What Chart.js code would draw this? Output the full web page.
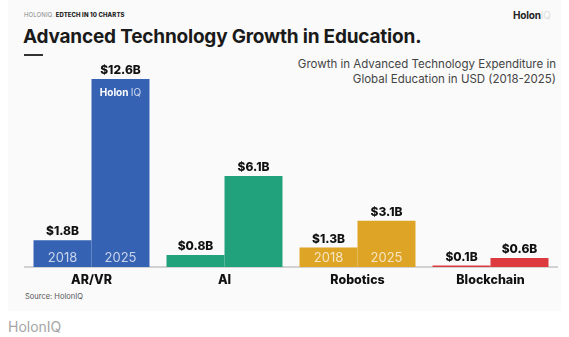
<!DOCTYPE html>
<html>
<head>
<meta charset="utf-8">
<script src="https://cdn.jsdelivr.net/npm/chart.js@4"></script>
<style>
  html, body { margin: 0; padding: 0; background: #fff; }
  body { width: 569px; height: 337px; position: relative; overflow: hidden; font-family: Inter, "Noto Sans", sans-serif; }
  .card { position: absolute; left: 8px; top: 0; width: 553px; height: 311px; background: #fafafa; }
  .kicker { position: absolute; left: 24px; top: 11px; font-size: 6px; letter-spacing: 0.1px; color: #888; }
  .kicker b { color: #222; font-weight: 800; }
  .brand { position: absolute; left: 513px; top: 9px; font-size: 10px; font-weight: 700; color: #222; letter-spacing: -0.2px; }
  .brand span { color: #ddd; font-weight: 400; }
  h1 { position: absolute; left: 23px; top: 25px; margin: 0; font-size: 19px; font-weight: 700; color: #1a1a1a; letter-spacing: -0.2px; }
  .rule { position: absolute; left: 24px; top: 54px; width: 19px; height: 2px; background: #333; }
  .sub { position: absolute; right: 13px; top: 57px; text-align: right; font-size: 11.5px; line-height: 15px; color: #444; }
  .source { position: absolute; left: 25px; top: 292px; font-size: 7.5px; color: #555; }
  .foot { position: absolute; left: 8px; top: 318px; font-size: 14px; color: #a5a5a5; }
  #wrap { position: absolute; left: 0; top: 0; width: 569px; height: 337px; }
</style>
</head>
<body>
<div class="card"></div>
<div class="kicker">HOLONIQ. <b>EDTECH IN 10 CHARTS</b></div>
<div class="brand">Holon<span>IQ</span></div>
<h1>Advanced Technology Growth in Education.</h1>
<div class="rule"></div>
<div class="sub">Growth in Advanced Technology Expenditure in<br>Global Education in USD (2018-2025)</div>
<div class="source">Source: HolonIQ</div>
<div class="foot">HolonIQ</div>
<div id="wrap"><canvas id="chart"></canvas></div>
<script>
// spend in USD billions
const categories = ['AR/VR', 'AI', 'Robotics', 'Blockchain'];
const years = ['2018', '2025'];
const spend2018 = [1.8, 0.8, 1.3, 0.1];
const spend2025 = [12.6, 6.1, 3.1, 0.6];
const barColors = ['#3662b4', '#22a27c', '#dea425', '#dc3a3e'];
// groups that carry the year tag inside their bars
const taggedGroups = ['AR/VR', 'Robotics'];

const valueLabels = {
  id: 'valueLabels',
  afterDatasetsDraw(chart) {
    const ctx = chart.ctx;
    ctx.save();
    ctx.textAlign = 'center';
    chart.data.datasets.forEach((ds, di) => {
      const meta = chart.getDatasetMeta(di);
      meta.data.forEach((bar, i) => {
        ctx.fillStyle = '#111';
        ctx.font = '800 12px Inter, sans-serif';
        ctx.textBaseline = 'alphabetic';
        ctx.fillText('$' + ds.data[i].toFixed(1) + 'B', bar.x, bar.y - 5);
        if (taggedGroups.includes(categories[i])) {
          ctx.fillStyle = 'rgba(255,255,255,0.72)';
          ctx.font = '400 13px Inter, sans-serif';
          ctx.textBaseline = 'middle';
          ctx.fillText(years[di], bar.x, bar.base - 9);
        }
      });
    });
    // logo on the tallest bar
    const top = chart.getDatasetMeta(1).data[0];
    ctx.textBaseline = 'middle';
    ctx.textAlign = 'left';
    ctx.font = '700 10px Inter, sans-serif';
    const w1 = ctx.measureText('Holon ').width;
    ctx.font = '400 10px Inter, sans-serif';
    const w2 = ctx.measureText('IQ').width;
    const x0 = top.x - (w1 + w2) / 2;
    ctx.fillStyle = '#fff';
    ctx.font = '700 10px Inter, sans-serif';
    ctx.fillText('Holon ', x0, top.y + 14);
    ctx.fillStyle = 'rgba(255,255,255,0.75)';
    ctx.font = '400 10px Inter, sans-serif';
    ctx.fillText('IQ', x0 + w1, top.y + 14);
    ctx.restore();
  }
};

new Chart(document.getElementById('chart'), {
  type: 'bar',
  data: {
    labels: categories,
    datasets: [
      { label: years[0], data: spend2018, backgroundColor: barColors },
      { label: years[1], data: spend2025, backgroundColor: barColors }
    ]
  },
  options: {
    responsive: true,
    maintainAspectRatio: false,
    animation: false,
    events: [],
    layout: { padding: { left: 25, right: 12, top: 58, bottom: 43 } },
    datasets: { bar: { categoryPercentage: 0.872, barPercentage: 1, borderWidth: 0 } },
    plugins: { legend: { display: false }, tooltip: { enabled: false } },
    scales: {
      x: {
        grid: { display: false, drawTicks: false },
        border: { display: true, color: '#d2d2d2', width: 2 },
        ticks: { color: '#111', padding: 6, font: { family: 'Inter, sans-serif', size: 12.5, weight: '800' } }
      },
      y: { display: false, min: 0, max: 14 }
    }
  },
  plugins: [valueLabels]
});
</script>
</body>
</html>
